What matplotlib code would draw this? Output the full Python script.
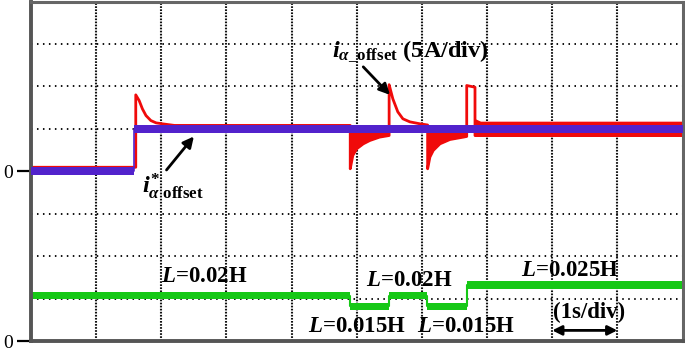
import matplotlib
matplotlib.use('Agg')
import numpy as np
import matplotlib.pyplot as plt

# ---- data read off the scope capture (x in s, current in A, inductance in H) ----
# reference current i*_alpha_offset
t_ref = [0.0, 1.585, 1.585, 10.0]
i_ref = [0.0, 0.0, 5.0, 5.0]

# measured current i_alpha_offset: lower edge / centre and upper envelope (noise band)
t_red = [0.00, 1.608, 1.608, 1.66, 1.71, 1.765, 1.84, 1.92, 2.015, 2.20, 4.90, 4.90,
         4.94, 5.00, 5.10, 5.20, 5.35, 5.497, 5.497, 5.554, 5.63, 5.708, 5.815, 5.97,
         6.088, 6.088, 6.123, 6.174, 6.277, 6.43, 6.636, 6.688, 6.688, 6.815, 6.815,
         6.90, 10.0]
i_red = [0.47, 0.47, 9.00, 8.33, 7.35, 6.56, 5.97, 5.70, 5.59, 5.40, 5.40, 0.29,
         1.86, 2.65, 3.23, 3.62, 4.02, 4.21, 10.2, 8.53, 7.00, 6.18, 5.82, 5.59,
         5.45, 0.29, 1.67, 2.45, 3.23, 3.74, 4.02, 4.10, 10.1, 9.9, 4.2,
         4.2, 4.2]
red_top = [0.47, 0.47, 9.00, 8.33, 7.35, 6.56, 5.97, 5.70, 5.59, 5.40, 5.40, 5.0,
           5.0, 5.0, 5.0, 5.0, 5.0, 5.0, 10.2, 8.53, 7.00, 6.18, 5.82, 5.59,
           5.45, 5.0, 5.0, 5.0, 5.0, 5.0, 5.0, 5.0, 10.1, 9.9, 6.2,
           5.9, 5.9]

# inductance steps
t_L = [0.0, 4.89, 5.49, 6.08, 6.69, 10.0]
L_val = [0.020, 0.015, 0.020, 0.015, 0.025, 0.025]

# scope scaling: channel 1 zero on division 4, 5 A/div; channel 2 near bottom
I_ZERO = 4.0
A_PER_DIV = 5.0
L_OFS = 0.06
DIV_PER_H = 50.4

RED = '#f00a0a'
BLUE = '#5222cc'
GREEN = '#16c816'

plt.rcParams['font.family'] = 'Liberation Serif'
plt.rcParams['mathtext.fontset'] = 'custom'
plt.rcParams['mathtext.rm'] = 'Liberation Serif:bold'
plt.rcParams['mathtext.it'] = 'Liberation Serif:italic:bold'
plt.rcParams['mathtext.bf'] = 'Liberation Serif:bold'
plt.rcParams['lines.scale_dashes'] = False

fig = plt.figure(figsize=(6.85, 3.5), dpi=100)
ax = fig.add_axes([31 / 685, 9 / 350, 651.5 / 685, 339.5 / 350])
ax.set_xlim(0, 10)
ax.set_ylim(0, 8)

# grid (dotted scope graticule)
ax.set_xticks([])
ax.set_xticks(range(1, 10), minor=True)
ax.set_yticks([0, 4])
ax.set_yticklabels(['0', '0'], fontsize=14)
ax.set_yticks(range(1, 8), minor=True)
ax.tick_params(which='minor', length=0)
ax.tick_params(axis='y', which='major', direction='out', length=10, width=1.6,
               color='black', pad=3)
ax.get_yticklabels()[0].set_va('center_baseline')
ax.xaxis.grid(True, which='minor', color='#111111', lw=1.5, ls=(0, (1.2, 1.0)))
ax.yaxis.grid(True, which='minor', color='#111111', lw=1.4, ls=(0, (1.1, 3.2)))
ax.yaxis.grid(False, which='major')
ax.set_axisbelow(True)

for side in ['left', 'bottom']:
    ax.spines[side].set_linewidth(2.8)
    ax.spines[side].set_color('#555555')
for side in ['top', 'right']:
    ax.spines[side].set_linewidth(2.2)
    ax.spines[side].set_color('#666666')

# channel 1: measured current (red) with noise band, reference (blue) on top
r_lo = I_ZERO + np.array(i_red) / A_PER_DIV
r_hi = I_ZERO + np.array(red_top) / A_PER_DIV
ax.fill_between(t_red, r_lo, r_hi, color=RED, lw=0, zorder=2)
ax.plot(t_red, r_lo, color=RED, lw=2.0, zorder=2)

b = I_ZERO + np.array(i_ref) / A_PER_DIV
half = 0.45 / A_PER_DIV
ax.fill_between(t_ref, b - half, b + half, color=BLUE, lw=0, zorder=3)
ax.plot(t_ref, b, color=BLUE, lw=1.2, zorder=3)

# channel 2: inductance (green)
g = L_OFS + np.array(L_val) * DIV_PER_H
ax.fill_between(t_L, g - 0.085, g + 0.085, step='post', color=GREEN, lw=0, zorder=2)
ax.step(t_L, g, where='post', color=GREEN, lw=1.5, zorder=2)

# annotations
txt = dict(fontsize=16.5, fontweight='bold', ha='center', va='center', zorder=5)
ax.text(2.655, 1.52, r'$L$=0.02H', **txt)
ax.text(5.80, 1.42, r'$L$=0.02H', **txt)
ax.text(8.27, 1.65, r'$L$=0.025H', **txt)
ax.text(5.00, 0.34, r'$L$=0.015H', **txt)
ax.text(6.68, 0.34, r'$L$=0.015H', **txt)
ax.text(8.56, 0.67, '(1s/div)', **txt)
ax.annotate('', xy=(8.0, 0.25), xytext=(9.0, 0.25),
            arrowprops=dict(arrowstyle='<|-|>', color='black', lw=2,
                            mutation_scale=14, shrinkA=0, shrinkB=0))

ax.text(4.62, 6.70, r'$i_{\alpha\_\mathrm{offset}}$ (5A/div)', fontsize=17.5,
        fontweight='bold', ha='left', va='baseline', zorder=5)
ax.annotate('', xy=(5.51, 5.80), xytext=(5.10, 6.46),
            arrowprops=dict(arrowstyle='-|>', color='black', lw=2,
                            mutation_scale=16, shrinkA=0, shrinkB=0), zorder=5)

ax.text(1.70, 3.49, r'$i^{*}_{\alpha\ \mathrm{offset}}$', fontsize=17.5,
        ha='left', va='baseline', zorder=5)
ax.annotate('', xy=(2.50, 4.82), xytext=(2.08, 4.03),
            arrowprops=dict(arrowstyle='-|>', color='black', lw=2,
                            mutation_scale=16, shrinkA=0, shrinkB=0), zorder=5)

fig.savefig('out.png', dpi=100, facecolor='white')
